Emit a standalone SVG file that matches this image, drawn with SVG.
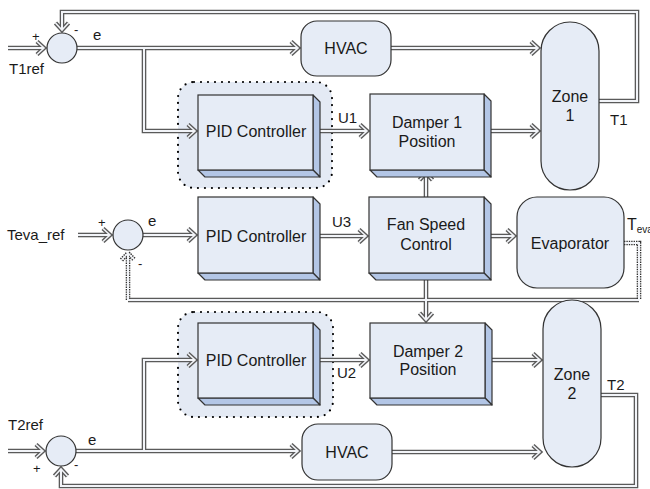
<svg xmlns="http://www.w3.org/2000/svg" xmlns:xlink="http://www.w3.org/1999/xlink" width="650" height="489" viewBox="0 0 650 489">
<style>
text{font-family:"Liberation Sans",Arial,sans-serif;fill:#1a1a1a}
.lbl{font-size:16px;text-anchor:middle}
.sm{font-size:15px}
.sg{font-size:13px}
.face{fill:#e6ecf6;stroke:#333;stroke-width:1.2}
.side{fill:#b3c6e6;stroke:#333;stroke-width:1.2;stroke-linejoin:round}
.pill{fill:#e6ecf6;stroke:#333;stroke-width:1.2}
.halo{fill:#e4eaf4;stroke:#000;stroke-width:2.2;stroke-dasharray:0 7;stroke-linecap:round}
.o{fill:none;stroke:#5a5a5a;stroke-width:4.6;marker-end:url(#ao)}
.i{fill:none;stroke:#f2f4f8;stroke-width:2;marker-end:url(#ai)}
.od{fill:none;stroke:#333;stroke-width:4.6;stroke-dasharray:1.4 1}
</style>
<defs>
<marker id="ao" markerUnits="userSpaceOnUse" overflow="visible" orient="auto" markerWidth="1" markerHeight="1">
<path d="M-7,-6.5 L0,0 L-7,6.5" fill="none" stroke="#5a5a5a" stroke-width="4.4"/>
</marker>
<marker id="ai" markerUnits="userSpaceOnUse" overflow="visible" orient="auto" markerWidth="1" markerHeight="1">
<path d="M-7,-6.5 L0,0 L-7,6.5" fill="none" stroke="#f2f4f8" stroke-width="1.6"/>
</marker>
<marker id="aod" markerUnits="userSpaceOnUse" overflow="visible" orient="auto" markerWidth="1" markerHeight="1">
<path d="M-7,-6.5 L0,0 L-7,6.5" fill="none" stroke="#333" stroke-width="4.4" stroke-dasharray="1.4 1"/>
</marker>
<path id="w1" d="M8,48 H44"/>
<path id="w2" d="M77,48 H298"/>
<path id="w3" d="M144,48 V131 H195"/>
<path id="w4" d="M313,131 H367"/>
<path id="w5" d="M484,131 H538"/>
<path id="w6" d="M391,48 H538"/>
<path id="w7" d="M599,101 H637 V12 H62 V30"/>
<path id="w8" d="M78,235 H110"/>
<path id="w9" d="M143,235 H195"/>
<path id="w10" d="M313,236 H366"/>
<path id="w11" d="M484,236 H514"/>
<path id="w12" d="M426,197 V173"/>
<path id="w13" d="M426,273 V320"/>
<path id="w14" d="M639,300 H128" marker-end="none"/>
<path id="w15" d="M8,451 H43"/>
<path id="w16" d="M76,451 H298"/>
<path id="w17" d="M144,451 V360 H195"/>
<path id="w18" d="M313,360 H367"/>
<path id="w19" d="M485,360 H540"/>
<path id="w20" d="M392,452 H540"/>
<path id="w21" d="M601,395 H636 V486 H61 V469"/>
<path id="d1" d="M624,243 H639 V300"/>
<path id="d2" d="M128,300 V253"/>
</defs>

<!-- dotted enclosures around the zone PID loops -->
<rect id="halo1" class="halo" x="178" y="82" width="154" height="106" rx="16"/>
<rect id="halo2" class="halo" x="178" y="312" width="155" height="105" rx="16"/>

<!-- connectors: dark outline pass, then light core pass -->
<g id="connectors">
<g class="o">
<use xlink:href="#w1"/><use xlink:href="#w2"/><use xlink:href="#w3"/><use xlink:href="#w4"/>
<use xlink:href="#w5"/><use xlink:href="#w6"/><use xlink:href="#w7"/><use xlink:href="#w8"/>
<use xlink:href="#w9"/><use xlink:href="#w10"/><use xlink:href="#w11"/><use xlink:href="#w12"/>
<use xlink:href="#w13"/><use xlink:href="#w14"/><use xlink:href="#w15"/><use xlink:href="#w16"/>
<use xlink:href="#w17"/><use xlink:href="#w18"/><use xlink:href="#w19"/><use xlink:href="#w20"/>
<use xlink:href="#w21"/>
</g>
<use xlink:href="#d1" class="od"/>
<use xlink:href="#d2" class="od" style="marker-end:url(#aod)"/>
<g class="i">
<use xlink:href="#w1"/><use xlink:href="#w2"/><use xlink:href="#w3"/><use xlink:href="#w4"/>
<use xlink:href="#w5"/><use xlink:href="#w6"/><use xlink:href="#w7"/><use xlink:href="#w8"/>
<use xlink:href="#w9"/><use xlink:href="#w10"/><use xlink:href="#w11"/><use xlink:href="#w12"/>
<use xlink:href="#w13"/><use xlink:href="#w14"/><use xlink:href="#w15"/><use xlink:href="#w16"/>
<use xlink:href="#w17"/><use xlink:href="#w18"/><use xlink:href="#w19"/><use xlink:href="#w20"/>
<use xlink:href="#w21"/>
<use xlink:href="#d1" style="marker-end:none"/><use xlink:href="#d2"/>
</g>
</g>

<!-- summing junctions -->
<g id="sum1"><circle class="pill" cx="62" cy="48" r="15"/></g>
<g id="sum2"><circle class="pill" cx="128" cy="235" r="15"/></g>
<g id="sum3"><circle class="pill" cx="61" cy="451" r="15"/></g>

<!-- plant blocks -->
<g id="hvac1"><rect class="pill" x="301" y="21" width="90" height="55" rx="16"/><text class="lbl" x="346" y="54">HVAC</text></g>
<g id="hvac2"><rect class="pill" x="302" y="424" width="90" height="56" rx="16"/><text class="lbl" x="347" y="458">HVAC</text></g>
<g id="zone1"><rect class="pill" x="541" y="22" width="58" height="168" rx="29"/><text class="lbl" x="570" y="102">Zone</text><text class="lbl" x="570" y="121">1</text></g>
<g id="zone2"><rect class="pill" x="543" y="300" width="58" height="167" rx="29"/><text class="lbl" x="572" y="380">Zone</text><text class="lbl" x="572" y="399">2</text></g>
<g id="evaporator"><rect class="pill" x="517" y="197" width="107" height="91" rx="20"/><text class="lbl" x="570" y="249">Evaporator</text></g>

<!-- bevelled controller blocks -->
<g id="pid1">
<path class="side" d="M313,95 L320,102 L320,177 L313,170Z"/><path class="side" d="M198,170 L205,177 L320,177 L313,170Z"/>
<rect class="face" x="198" y="95" width="115" height="75"/><text class="lbl" x="256" y="137">PID Controller</text>
</g>
<g id="damper1">
<path class="side" d="M484,94 L491,101 L491,177 L484,170Z"/><path class="side" d="M370,170 L377,177 L491,177 L484,170Z"/>
<rect class="face" x="370" y="94" width="114" height="76"/><text class="lbl" x="427" y="128">Damper 1</text><text class="lbl" x="427" y="147">Position</text>
</g>
<g id="pid2">
<path class="side" d="M313,197 L320,204 L320,280 L313,273Z"/><path class="side" d="M198,273 L205,280 L320,280 L313,273Z"/>
<rect class="face" x="198" y="197" width="115" height="76"/><text class="lbl" x="256" y="242">PID Controller</text>
</g>
<g id="fanspeed">
<path class="side" d="M484,197 L491,204 L491,280 L484,273Z"/><path class="side" d="M369,273 L376,280 L491,280 L484,273Z"/>
<rect class="face" x="369" y="197" width="115" height="76"/><text class="lbl" x="426" y="230">Fan Speed</text><text class="lbl" x="426" y="250">Control</text>
</g>
<g id="pid3">
<path class="side" d="M313,323 L320,330 L320,405 L313,398Z"/><path class="side" d="M198,398 L205,405 L320,405 L313,398Z"/>
<rect class="face" x="198" y="323" width="115" height="75"/><text class="lbl" x="256" y="366">PID Controller</text>
</g>
<g id="damper2">
<path class="side" d="M485,323 L492,330 L492,405 L485,398Z"/><path class="side" d="M370,398 L377,405 L492,405 L485,398Z"/>
<rect class="face" x="370" y="323" width="115" height="75"/><text class="lbl" x="428" y="357">Damper 2</text><text class="lbl" x="428" y="375">Position</text>
</g>

<!-- signal labels -->
<g id="labels">
<text class="sm" x="9" y="74">T1ref</text>
<text class="sg" x="32" y="41">+</text>
<text class="sg" x="74" y="34">-</text>
<text class="sm" x="93" y="40">e</text>
<text class="sm" x="338" y="123">U1</text>
<text class="sm" x="610" y="125">T1</text>
<text class="sm" x="7" y="240">Teva_ref</text>
<text class="sg" x="98" y="227">+</text>
<text class="sg" x="138" y="268">-</text>
<text class="sm" x="148" y="226">e</text>
<text class="sm" x="332" y="227">U3</text>
<text x="627" y="230" font-size="16">T<tspan font-size="10" dy="3">eva</tspan></text>
<text class="sm" x="337" y="378">U2</text>
<text class="sm" x="607" y="390">T2</text>
<text class="sm" x="8" y="430">T2ref</text>
<text class="sg" x="33" y="473">+</text>
<text class="sg" x="74" y="469">-</text>
<text class="sm" x="88" y="445">e</text>
</g>
</svg>
